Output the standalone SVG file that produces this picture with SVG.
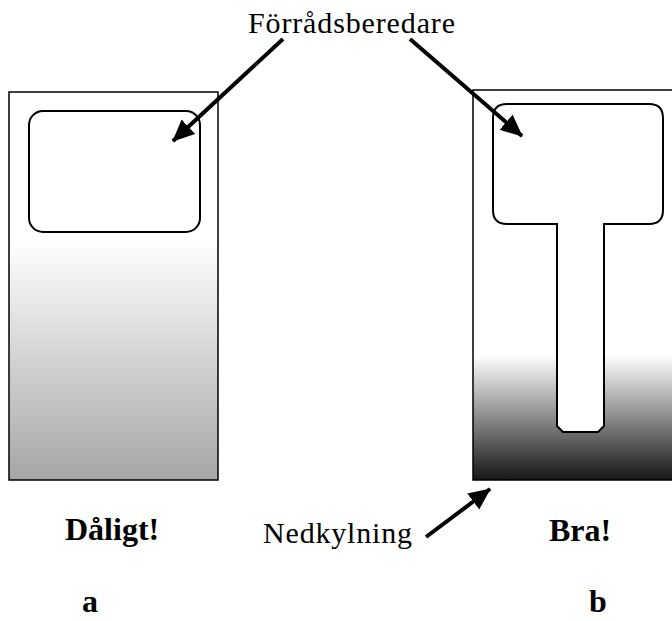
<svg xmlns="http://www.w3.org/2000/svg" width="672" height="621" viewBox="0 0 672 621">
  <defs>
    <linearGradient id="gradA" x1="0" y1="0" x2="0" y2="1">
      <stop offset="0" stop-color="#ffffff"/>
      <stop offset="0.38" stop-color="#ffffff"/>
      <stop offset="1" stop-color="#a6a6a6"/>
    </linearGradient>
    <linearGradient id="gradB" x1="0" y1="0" x2="0" y2="1">
      <stop offset="0" stop-color="#ffffff"/>
      <stop offset="0.68" stop-color="#ffffff"/>
      <stop offset="1" stop-color="#161616"/>
    </linearGradient>
    <marker id="head" markerUnits="userSpaceOnUse" markerWidth="26" markerHeight="22" refX="21" refY="10" orient="auto">
      <polygon points="0,0 22,10 0,20" fill="#000"/>
    </marker>
    <style>
      .outer { stroke: #000; stroke-width: 1.5; }
      .inner { fill: #fff; stroke: #000; stroke-width: 2; }
      .lbl { font-family: "Liberation Serif", "Times New Roman", serif; font-size: 30px; fill: #000; }
      .bold { font-family: "Liberation Serif", "Times New Roman", serif; font-size: 32px; font-weight: bold; fill: #000; }
      .arrow { stroke: #000; stroke-width: 4; fill: none; }
    </style>
  </defs>

  <rect width="672" height="621" fill="#fff"/>

  <g id="box-a">
    <rect class="outer" x="9" y="92" width="209" height="388" fill="url(#gradA)"/>
    <rect class="inner" x="29" y="111" width="171" height="121" rx="14" ry="14"/>
  </g>

  <g id="box-b">
    <rect class="outer" x="473" y="90" width="210" height="390" fill="url(#gradB)"/>
    <path class="inner" d="M507,104 H649 Q663,104 663,118 V210 Q663,224 649,224 H604 V426 L598,432 H563 L557,426 V224 H507 Q493,224 493,210 V118 Q493,104 507,104 Z"/>
  </g>

  <g id="label-forradsberedare">
    <text class="lbl" x="248" y="33" textLength="207" lengthAdjust="spacing">Förrådsberedare</text>
  </g>
  <g id="label-nedkylning">
    <text class="lbl" x="263" y="543" textLength="149" lengthAdjust="spacing">Nedkylning</text>
  </g>
  <g id="label-daligt">
    <text class="bold" x="65" y="540">Dåligt!</text>
  </g>
  <g id="label-bra">
    <text class="bold" x="549" y="541">Bra!</text>
  </g>
  <g id="label-a">
    <text class="bold" x="82" y="612">a</text>
  </g>
  <g id="label-b">
    <text class="bold" x="589" y="612">b</text>
  </g>

  <g id="connectors">
    <line class="arrow" x1="283" y1="39" x2="173" y2="141" marker-end="url(#head)"/>
    <line class="arrow" x1="410" y1="39" x2="522" y2="136" marker-end="url(#head)"/>
    <line class="arrow" x1="426" y1="537" x2="490" y2="489" marker-end="url(#head)"/>
  </g>
</svg>
